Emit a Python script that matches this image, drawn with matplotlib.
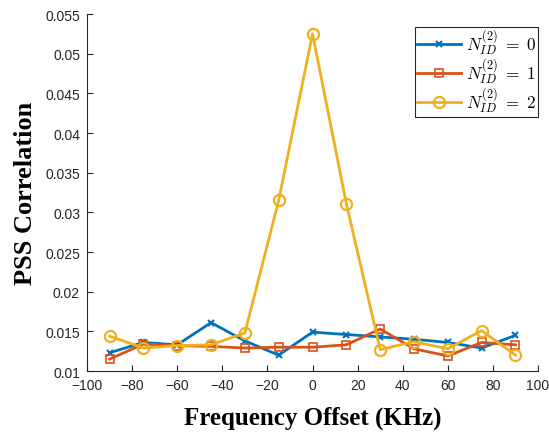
import numpy as np
import matplotlib
matplotlib.use('Agg')
import matplotlib.pyplot as plt

# frequency offsets (KHz) and PSS correlation for each N_ID^(2)
freq_offset = [-90, -75, -60, -45, -30, -15, 0, 15, 30, 45, 60, 75, 90]
corr_nid0 = [0.0123, 0.0136, 0.0133, 0.0161, 0.0138, 0.0120, 0.0149, 0.0146, 0.0143, 0.0140, 0.0136, 0.0129, 0.0145]
corr_nid1 = [0.0115, 0.0134, 0.0132, 0.0131, 0.0129, 0.0130, 0.0130, 0.0133, 0.0153, 0.0128, 0.0119, 0.0136, 0.0133]
corr_nid2 = [0.0144, 0.0129, 0.0132, 0.0133, 0.0148, 0.0315, 0.0525, 0.0311, 0.0127, 0.0137, 0.0128, 0.0151, 0.0120]

xticks = np.arange(-100, 101, 20)
yticks = np.arange(0.01, 0.0551, 0.005)
ytick_labels = ['0.01', '0.015', '0.02', '0.025', '0.03', '0.035', '0.04', '0.045', '0.05', '0.055']

plt.rcParams['font.family'] = ['Liberation Sans', 'DejaVu Sans']
plt.rcParams['mathtext.fontset'] = 'cm'

fig = plt.figure(figsize=(5.49, 4.35), dpi=100)
ax = fig.add_axes([0.1585, 0.1448, 0.8215, 0.8207])

ax.plot(freq_offset, corr_nid0, color='#0072BD', lw=2, marker='x', ms=5, mew=1.5,
        label=r'$N_{ID}^{(2)}\;=\;0$')
ax.plot(freq_offset, corr_nid1, color='#D95319', lw=2, marker='s', ms=6, mew=1.2,
        mfc='none', label=r'$N_{ID}^{(2)}\;=\;1$')
ax.plot(freq_offset, corr_nid2, color='#EDB120', lw=2, marker='o', ms=8, mew=1.6,
        mfc='none', label=r'$N_{ID}^{(2)}\;=\;2$')

ax.set_xlim(-100, 100)
ax.set_ylim(0.01, 0.055)
ax.set_xticks(xticks)
ax.set_yticks(yticks)
ax.set_yticklabels(ytick_labels)
ax.tick_params(direction='in', length=4, labelsize=10, colors='#262626', pad=5)
for s in ['top', 'right']:
    ax.spines[s].set_visible(False)
for s in ['left', 'bottom']:
    ax.spines[s].set_color('#262626')

ax.set_xlabel('Frequency Offset (KHz)', family=['Liberation Serif'], fontsize=18,
              fontweight='bold', labelpad=10)
ax.set_ylabel('PSS Correlation', family=['Liberation Serif'], fontsize=19,
              fontweight='bold', labelpad=6)

leg = ax.legend(loc='upper right', bbox_to_anchor=(1.0, 0.965), fontsize=12.5,
                fancybox=False, framealpha=1, edgecolor='#262626',
                handlelength=2.5, borderpad=0.1, labelspacing=0.0, handletextpad=0.3,
                borderaxespad=0)
leg.get_frame().set_linewidth(0.8)

fig.savefig('out.png', dpi=100)
